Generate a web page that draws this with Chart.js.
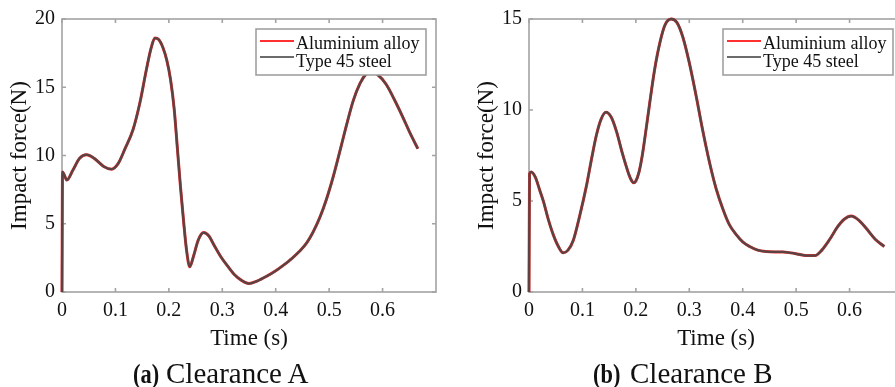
<!DOCTYPE html>
<html>
<head>
<meta charset="utf-8">
<script src="https://cdn.jsdelivr.net/npm/chart.js@4.4.1/dist/chart.umd.min.js"></script>
<style>
  html, body { margin: 0; padding: 0; background: #fff; }
  body { width: 895px; height: 387px; overflow: hidden; position: relative; font-family: 'Liberation Serif', 'Times New Roman', serif; }
  .wrap { position: absolute; top: 0; }
  .cap { position: absolute; top: 359px; font-size: 29px; line-height: 29px; color: #111; white-space: nowrap; }
  .cap.lab { font-weight: bold; font-size: 28px; transform: scaleX(0.8); transform-origin: left center; }
</style>
</head>
<body>
<div class="wrap" style="left:0;"><canvas id="chartA" width="450" height="360"></canvas></div>
<div class="wrap" style="left:450px;"><canvas id="chartB" width="470" height="360"></canvas></div>
<div class="cap lab" style="left:133px;">(a)</div>
<div class="cap" style="left:166px;">Clearance A</div>
<div class="cap lab" style="left:593px;">(b)</div>
<div class="cap" style="left:630px;">Clearance B</div>
<script>
// ---------- data ----------
const seriesNames = ['Aluminium alloy', 'Type 45 steel'];
const xTickValues = [0, 0.1, 0.2, 0.3, 0.4, 0.5, 0.6];
const yTicksA = [0, 5, 10, 15, 20];
const yTicksB = [0, 5, 10, 15];

// Clearance A (time in s)
const timeA = [0, 0.001, 0.004, 0.009, 0.02, 0.033, 0.046, 0.06, 0.078, 0.093, 0.105, 0.118, 0.133, 0.146, 0.158, 0.167, 0.174, 0.181, 0.189, 0.196, 0.203, 0.21, 0.216, 0.222, 0.228, 0.233, 0.239, 0.246, 0.255, 0.265, 0.275, 0.285, 0.297, 0.31, 0.322, 0.336, 0.35, 0.365, 0.383, 0.4, 0.414, 0.43, 0.445, 0.458, 0.47, 0.483, 0.495, 0.508, 0.52, 0.533, 0.545, 0.558, 0.57, 0.579, 0.59, 0.607, 0.622, 0.638, 0.652, 0.666];
const alumA = [0, 8.8, 8.6, 8.2, 8.9, 9.8, 10.06, 9.8, 9.2, 9.0, 9.4, 10.5, 11.9, 13.9, 16.3, 17.9, 18.6, 18.5, 17.9, 17.0, 15.6, 13.4, 10.5, 7.6, 5.0, 3.1, 1.85, 2.6, 3.8, 4.35, 4.1, 3.4, 2.6, 1.9, 1.3, 0.85, 0.62, 0.8, 1.15, 1.55, 1.95, 2.45, 3.0, 3.6, 4.4, 5.5, 6.8, 8.5, 10.3, 12.3, 14.0, 15.3, 16.0, 16.15, 15.95, 15.2, 14.1, 12.8, 11.6, 10.5];
const steelA = [0, 8.8, 8.6, 8.2, 8.9, 9.8, 10.06, 9.8, 9.2, 9.0, 9.4, 10.5, 11.9, 13.9, 16.3, 17.9, 18.6, 18.5, 17.9, 17.0, 15.6, 13.4, 10.5, 7.6, 5.0, 3.1, 1.85, 2.6, 3.8, 4.35, 4.1, 3.4, 2.6, 1.9, 1.3, 0.85, 0.62, 0.8, 1.15, 1.55, 1.95, 2.45, 3.0, 3.6, 4.4, 5.5, 6.8, 8.5, 10.3, 12.3, 14.0, 15.3, 16.0, 16.15, 15.95, 15.2, 14.1, 12.8, 11.6, 10.5];

// Clearance B (time in s)
const timeB = [0, 0.001, 0.004, 0.012, 0.02, 0.027, 0.036, 0.045, 0.055, 0.064, 0.073, 0.083, 0.095, 0.108, 0.117, 0.126, 0.135, 0.144, 0.154, 0.164, 0.174, 0.181, 0.187, 0.192, 0.196, 0.2, 0.206, 0.212, 0.218, 0.226, 0.235, 0.245, 0.255, 0.266, 0.277, 0.288, 0.3, 0.313, 0.325, 0.338, 0.35, 0.363, 0.375, 0.388, 0.4, 0.413, 0.428, 0.444, 0.46, 0.475, 0.49, 0.507, 0.52, 0.535, 0.548, 0.563, 0.578, 0.59, 0.603, 0.617, 0.631, 0.648, 0.665];
const alumB = [0, 6.5, 6.6, 6.3, 5.6, 4.98, 4.0, 3.18, 2.5, 2.15, 2.3, 2.85, 4.2, 5.9, 7.3, 8.6, 9.5, 9.88, 9.6, 8.8, 7.7, 7.0, 6.45, 6.12, 6.0, 6.1, 6.6, 7.5, 8.7, 10.4, 12.2, 13.7, 14.7, 15.0, 14.8, 14.0, 12.6, 10.75, 8.9, 7.1, 5.7, 4.55, 3.7, 3.15, 2.75, 2.5, 2.3, 2.22, 2.2, 2.2, 2.15, 2.06, 2.0, 2.0, 2.3, 2.9, 3.6, 4.0, 4.17, 3.95, 3.5, 2.9, 2.5];
const steelB = [0, 6.5, 6.6, 6.3, 5.6, 4.98, 4.0, 3.18, 2.5, 2.15, 2.3, 2.85, 4.2, 5.9, 7.3, 8.6, 9.5, 9.88, 9.6, 8.8, 7.7, 7.0, 6.45, 6.12, 6.0, 6.1, 6.6, 7.5, 8.7, 10.4, 12.2, 13.7, 14.7, 15.0, 14.8, 14.0, 12.6, 10.75, 8.9, 7.1, 5.7, 4.55, 3.7, 3.15, 2.75, 2.5, 2.3, 2.22, 2.2, 2.2, 2.15, 2.06, 2.0, 2.0, 2.3, 2.9, 3.6, 4.0, 4.17, 3.95, 3.5, 2.9, 2.5];

// ---------- styling ----------
const FONT = "'Liberation Serif', 'Times New Roman', serif";
const FRAME = '#a3a3a3';
const RED = '#f03030';
const STEEL = 'rgba(80,68,68,0.95)';

const framePlugin = {
  id: 'frameBox',
  beforeDatasetsDraw(chart) {
    const { ctx, chartArea: a, scales } = chart;
    const x = scales.x, y = scales.y;
    ctx.save();
    ctx.strokeStyle = FRAME;
    ctx.lineWidth = 1.6;
    ctx.strokeRect(a.left, a.top, a.right - a.left, a.bottom - a.top);
    const L = 4;
    ctx.beginPath();
    x.ticks.forEach(t => {
      const px = x.getPixelForValue(t.value);
      ctx.moveTo(px, a.bottom); ctx.lineTo(px, a.bottom - L);
      ctx.moveTo(px, a.top); ctx.lineTo(px, a.top + L);
    });
    y.ticks.forEach(t => {
      const py = y.getPixelForValue(t.value);
      ctx.moveTo(a.left, py); ctx.lineTo(a.left + L, py);
      ctx.moveTo(a.right, py); ctx.lineTo(a.right - L, py);
    });
    ctx.stroke();
    ctx.restore();
  },
  afterDatasetsDraw(chart) {
    const { ctx, chartArea: a } = chart;
    const w = 170, h = 46;
    const bx = a.right - 10 - w, by = a.top + 10;
    ctx.save();
    ctx.fillStyle = '#fff';
    ctx.fillRect(bx, by, w, h);
    ctx.strokeStyle = '#9a9a9a';
    ctx.lineWidth = 1.5;
    ctx.strokeRect(bx, by, w, h);
    const rows = [
      { ly: by + 12, ty: by + 20 },
      { ly: by + 28, ty: by + 38 }
    ];
    chart.data.datasets.forEach((ds, i) => {
      const r = rows[i];
      ctx.strokeStyle = ds.legendColor;
      ctx.lineWidth = 2;
      ctx.beginPath();
      ctx.moveTo(bx + 4, r.ly); ctx.lineTo(bx + 38, r.ly);
      ctx.stroke();
      ctx.fillStyle = '#111';
      ctx.font = '18px ' + FONT;
      ctx.textBaseline = 'alphabetic';
      ctx.textAlign = 'left';
      ctx.fillText(ds.label, bx + 40, r.ty);
    });
    ctx.restore();
  }
};

function toPoints(xs, ys) { return xs.map((t, i) => ({ x: t, y: ys[i] })); }

function makeChart(id, time, alu, steel, yMax, yTicks, yAxisWidth, padRight, titlePad) {
  return new Chart(document.getElementById(id), {
    type: 'line',
    data: {
      datasets: [
        { label: seriesNames[0], data: toPoints(time, alu), order: 2, borderColor: RED, legendColor: '#ff3030', borderWidth: 3.0, pointRadius: 0, cubicInterpolationMode: 'monotone', fill: false, clip: 4 },
        { label: seriesNames[1], data: toPoints(time, steel), order: 1, borderColor: STEEL, legendColor: '#6b6b6b', borderWidth: 2.3, pointRadius: 0, cubicInterpolationMode: 'monotone', fill: false, clip: 4 }
      ]
    },
    options: {
      responsive: false,
      animation: false,
      devicePixelRatio: 1,
      layout: { padding: { top: 15, right: padRight, left: 0, bottom: 0 } },
      plugins: { legend: { display: false }, tooltip: { enabled: false } },
      scales: {
        x: {
          type: 'linear', min: 0, max: 0.7,
          afterBuildTicks: s => { s.ticks = xTickValues.map(v => ({ value: v })); },
          afterFit: s => { s.height = 68; },
          grid: { display: false, drawTicks: false },
          border: { display: false },
          ticks: { font: { family: FONT, size: 20 }, color: '#111', padding: 7, maxRotation: 0, autoSkip: false,
                   callback: v => String(Math.round(v * 10) / 10) },
          title: { display: true, text: 'Time (s)', font: { family: FONT, size: 23 }, color: '#111', padding: { top: 0, bottom: 7 } }
        },
        y: {
          type: 'linear', min: 0, max: yMax,
          afterBuildTicks: s => { s.ticks = yTicks.map(v => ({ value: v })); },
          afterFit: s => { s.width = yAxisWidth; },
          grid: { display: false, drawTicks: false },
          border: { display: false },
          ticks: { font: { family: FONT, size: 20 }, color: '#111', padding: 7, autoSkip: false },
          title: { display: true, text: 'Impact force(N)', font: { family: FONT, size: 23 }, color: '#111', padding: { top: titlePad, bottom: 0 } }
        }
      }
    },
    plugins: [framePlugin]
  });
}

makeChart('chartA', timeA, alumA, steelA, 20, yTicksA, 62, 14, 6);
makeChart('chartB', timeB, alumB, steelB, 15, yTicksB, 79, 17, 23);
</script>
</body>
</html>
